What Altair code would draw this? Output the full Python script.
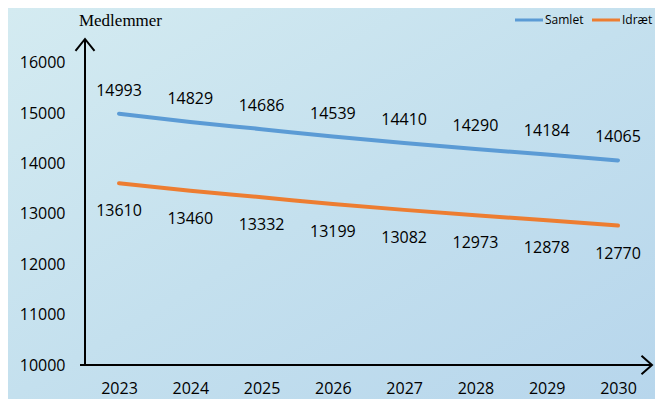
import altair as alt
import pandas as pd

years = [2023, 2024, 2025, 2026, 2027, 2028, 2029, 2030]
samlet = [14993, 14829, 14686, 14539, 14410, 14290, 14184, 14065]
idraet = [13610, 13460, 13332, 13199, 13082, 12973, 12878, 12770]
series_names = ["Samlet", "Idræt"]
series_colors = ["#5b9bd5", "#ed7d31"]
y_ticks = [10000, 11000, 12000, 13000, 14000, 15000, 16000]

W, H = 570, 324
PL, PT, PR, PB = 77, 33, 0, 34

df = pd.DataFrame(
    {
        "year": years * 2,
        "value": samlet + idraet,
        "series": [series_names[0]] * len(years) + [series_names[1]] * len(years),
    }
)

FONT = "Open Sans"

x_enc = alt.X(
    "year:Q",
    scale=alt.Scale(domain=[2022.523, 2030.519], nice=False, zero=False),
    axis=alt.Axis(
        values=years, format="d", domain=False, ticks=False, grid=False,
        labelFont=FONT, labelFontSize=16, labelColor="black", labelPadding=15,
        title=None, zindex=2,
    ),
)
y_enc = alt.Y(
    "value:Q",
    scale=alt.Scale(domain=[10000, 16437], nice=False, zero=False),
    axis=alt.Axis(
        values=y_ticks, format="d", domain=False, ticks=False, grid=False,
        labelFont=FONT, labelFontSize=16, labelColor="black", labelPadding=20,
        title="Medlemmer", titleAngle=0, titleX=35, titleY=-21,
        titleAlign="center", titleBaseline="middle",
        titleFont="Liberation Serif", titleFontSize=17, titleFontWeight="normal",
        titleColor="black", zindex=2,
    ),
)

bg = alt.Chart(pd.DataFrame({"a": [0]})).mark_rect(
    clip=False,
    fill=alt.Gradient(
        gradient="linear",
        stops=[
            alt.GradientStop(color="#d4ebf1", offset=0),
            alt.GradientStop(color="#c4e0ee", offset=0.5),
            alt.GradientStop(color="#b7d6ec", offset=1),
        ],
        x1=0, y1=0, x2=1, y2=1,
    ),
).encode(
    x=alt.value(-PL), x2=alt.value(W + PR), y=alt.value(-PT), y2=alt.value(H + PB)
)

lines = alt.Chart(df).mark_line(
    interpolate="monotone", strokeWidth=4, strokeCap="round"
).encode(
    x=x_enc,
    y=y_enc,
    color=alt.Color(
        "series:N",
        scale=alt.Scale(domain=series_names, range=series_colors),
        legend=None,
    ),
)

lab_top = alt.Chart(df[df.series == series_names[0]]).mark_text(
    font=FONT, fontSize=16, color="black", dy=-23, baseline="middle"
).encode(x=x_enc, y=y_enc, text="value:Q")

lab_bot = alt.Chart(df[df.series == series_names[1]]).mark_text(
    font=FONT, fontSize=16, color="black", dy=28, baseline="middle"
).encode(x=x_enc, y=y_enc, text="value:Q")

# legend drawn as marks (top right)
one = pd.DataFrame({"a": [0]})
LEG_Y = -21
leg_layers = []
for name, col, x0 in zip(series_names, series_colors, [430, 507]):
    leg_layers.append(
        alt.Chart(one).mark_rule(color=col, strokeWidth=3, clip=False).encode(
            x=alt.value(x0), x2=alt.value(x0 + 28), y=alt.value(LEG_Y)
        )
    )
    leg_layers.append(
        alt.Chart(one).mark_text(
            text=name, font=FONT, fontSize=12, color="black",
            align="left", baseline="middle", clip=False,
        ).encode(x=alt.value(x0 + 30), y=alt.value(LEG_Y))
    )

y_axis = alt.Chart(one).mark_rule(color="black", strokeWidth=2, clip=False).encode(
    x=alt.value(0), y=alt.value(-1), y2=alt.value(H)
)
x_axis = alt.Chart(one).mark_rule(color="black", strokeWidth=2, clip=False).encode(
    x=alt.value(-5), x2=alt.value(W - 3), y=alt.value(H)
)
up_arrow = alt.Chart(one).mark_point(
    shape="M-1,1.26L0,0L1,1.26", filled=False, stroke="black", strokeWidth=2,
    size=361, opacity=1, clip=False,
).encode(x=alt.value(0), y=alt.value(-2))
right_arrow = alt.Chart(one).mark_point(
    shape="M-1.13,-1L0,0L-1.13,1", filled=False, stroke="black", strokeWidth=2,
    size=346, opacity=1, clip=False,
).encode(x=alt.value(W - 3), y=alt.value(H))

chart = alt.layer(
    bg, lines, lab_top, lab_bot, *leg_layers, y_axis, x_axis, up_arrow, right_arrow
).properties(
    width=W, height=H,
    autosize=alt.AutoSizeParams(type="none"),
    padding={"left": PL, "top": PT, "right": PR, "bottom": PB},
).configure_view(stroke=None).configure(background="#c6e1ee")

chart.save("out.html", embed_options={"renderer": "svg", "actions": False})
